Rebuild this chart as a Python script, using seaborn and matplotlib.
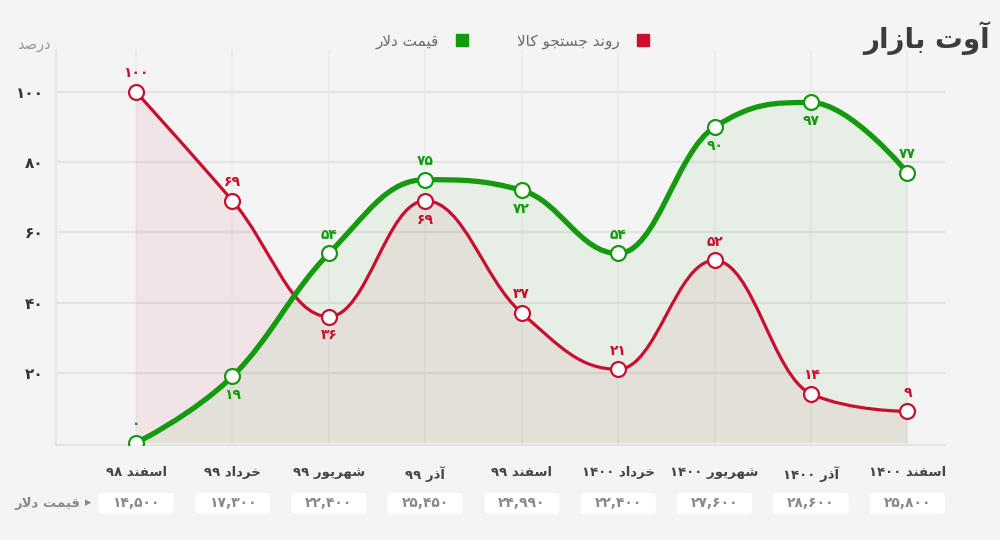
import re
import numpy as np
import pandas as pd
import matplotlib
matplotlib.use("Agg")
import matplotlib.pyplot as plt
import seaborn as sns
from matplotlib.path import Path
from matplotlib.patches import PathPatch, FancyBboxPatch
from matplotlib.lines import Line2D
from matplotlib import font_manager

# ---------------- data ----------------
categories = ["اسفند ۹۸", "خرداد ۹۹", "شهریور ۹۹", "آذر ۹۹", "اسفند ۹۹",
              "خرداد ۱۴۰۰", "شهریور ۱۴۰۰", "آذر ۱۴۰۰", "اسفند ۱۴۰۰"]
search_trend = [100, 69, 36, 69, 37, 21, 52, 14, 9]
dollar_index = [0, 19, 54, 75, 72, 54, 90, 97, 77]
dollar_prices = ["۱۴,۵۰۰", "۱۷,۳۰۰", "۲۲,۴۰۰", "۲۵,۴۵۰", "۲۴,۹۹۰",
                 "۲۲,۴۰۰", "۲۷,۶۰۰", "۲۸,۶۰۰", "۲۵,۸۰۰"]
y_ticks = [20, 40, 60, 80, 100]
search_label_side = [1, 1, -1, -1, 1, 1, 1, 1, 1]
dollar_label_side = [1, -1, 1, 1, -1, 1, -1, -1, 1]

series_search = "روند جستجو کالا"
series_dollar = "قیمت دلار"
y_title = "درصد"
price_row_title = "قیمت دلار"
logo_text = "آوت بازار"

RED = "#c90f2d"
GREEN = "#139a0e"
BG = "#f4f4f4"

# ---------------- persian shaping (matplotlib has no complex text layout) ----------------
FORMS = {
    'ا': ('\uFE8D', '\uFE8E', None, None),
    'آ': ('\uFE81', '\uFE82', None, None),
    'ب': ('\uFE8F', '\uFE90', '\uFE91', '\uFE92'),
    'ت': ('\uFE95', '\uFE96', '\uFE97', '\uFE98'),
    'ج': ('\uFE9D', '\uFE9E', '\uFE9F', '\uFEA0'),
    'خ': ('\uFEA5', '\uFEA6', '\uFEA7', '\uFEA8'),
    'د': ('\uFEA9', '\uFEAA', None, None),
    'ذ': ('\uFEAB', '\uFEAC', None, None),
    'ر': ('\uFEAD', '\uFEAE', None, None),
    'ز': ('\uFEAF', '\uFEB0', None, None),
    'س': ('\uFEB1', '\uFEB2', '\uFEB3', '\uFEB4'),
    'ش': ('\uFEB5', '\uFEB6', '\uFEB7', '\uFEB8'),
    'ص': ('\uFEB9', '\uFEBA', '\uFEBB', '\uFEBC'),
    'ف': ('\uFED1', '\uFED2', '\uFED3', '\uFED4'),
    'ق': ('\uFED5', '\uFED6', '\uFED7', '\uFED8'),
    'ک': ('\uFB8E', '\uFB8F', '\uFB90', '\uFB91'),
    'ل': ('\uFEDD', '\uFEDE', '\uFEDF', '\uFEE0'),
    'م': ('\uFEE1', '\uFEE2', '\uFEE3', '\uFEE4'),
    'ن': ('\uFEE5', '\uFEE6', '\uFEE7', '\uFEE8'),
    'ه': ('\uFEE9', '\uFEEA', '\uFEEB', '\uFEEC'),
    'و': ('\uFEED', '\uFEEE', None, None),
    'ی': ('\uFBFC', '\uFBFD', '\uFBFE', '\uFBFF'),
}
FALLBACK = {'\uFB8E': '\uFED9', '\uFB8F': '\uFEDA', '\uFB90': '\uFEDB', '\uFB91': '\uFEDC',
            '\uFBFC': '\uFEEF', '\uFBFD': '\uFEF0', '\uFBFE': '\uFEF3', '\uFBFF': '\uFEF4'}
try:
    from fontTools.ttLib import TTFont
    covered = None
    for w in ("normal", "bold"):
        p = font_manager.findfont(font_manager.FontProperties(family="DejaVu Sans", weight=w))
        cm = set(TTFont(p, fontNumber=0)['cmap'].getBestCmap().keys())
        covered = cm if covered is None else covered & cm
    MISSING = {k for k in FALLBACK if ord(k) not in covered}
except Exception:
    MISSING = set(FALLBACK)


def _joins_left(c):
    f = FORMS.get(c)
    return f is not None and f[2] is not None


def shape(text):
    out, i, n = [], 0, len(text)
    while i < n:
        c = text[i]
        if c not in FORMS:
            out.append(c); i += 1; continue
        pj = i > 0 and _joins_left(text[i - 1])
        if c == 'ل' and i + 1 < n and text[i + 1] in ('ا', 'آ'):
            lig = {'ا': ('\uFEFB', '\uFEFC'), 'آ': ('\uFEF5', '\uFEF6')}[text[i + 1]]
            out.append(lig[1] if pj else lig[0]); i += 2; continue
        nj = _joins_left(c) and i + 1 < n and text[i + 1] in FORMS
        f = FORMS[c]
        g = f[3] if (pj and nj) else f[1] if pj else f[2] if nj else f[0]
        out.append(FALLBACK[g] if g in MISSING else g)
        i += 1
    s = ''.join(out)
    tokens = re.findall(r'[0-9۰-۹,.]+|[^0-9۰-۹,.]+', s)
    return ''.join(t if re.match(r'[0-9۰-۹]', t) else t[::-1] for t in reversed(tokens))


def fa_num(v):
    return str(v).translate(str.maketrans("0123456789", "۰۱۲۳۴۵۶۷۸۹"))


# ---------------- highcharts-like spline ----------------
def spline_path(xs, ys, smoothing=1.5, close_to=None):
    n = len(xs)
    left = [None] * n
    right = [None] * n
    d = smoothing + 1
    for i in range(1, n - 1):
        px, py = xs[i], ys[i]
        lx, ly = xs[i - 1], ys[i - 1]
        nx, ny = xs[i + 1], ys[i + 1]
        lcx = (smoothing * px + lx) / d
        lcy = (smoothing * py + ly) / d
        rcx = (smoothing * px + nx) / d
        rcy = (smoothing * py + ny) / d
        corr = 0.0
        if rcx != lcx:
            corr = (rcy - lcy) * (rcx - px) / (rcx - lcx) + py - rcy
        lcy += corr
        rcy += corr
        if lcy > ly and lcy > py:
            lcy = max(ly, py); rcy = 2 * py - lcy
        elif lcy < ly and lcy < py:
            lcy = min(ly, py); rcy = 2 * py - lcy
        if rcy > ny and rcy > py:
            rcy = max(ny, py); lcy = 2 * py - rcy
        elif rcy < ny and rcy < py:
            rcy = min(ny, py); lcy = 2 * py - rcy
        left[i] = (lcx, lcy)
        right[i] = (rcx, rcy)
    verts = [(xs[0], ys[0])]
    codes = [Path.MOVETO]
    for i in range(1, n):
        c1 = right[i - 1] if right[i - 1] is not None else (xs[i - 1], ys[i - 1])
        c2 = left[i] if left[i] is not None else (xs[i], ys[i])
        verts += [c1, c2, (xs[i], ys[i])]
        codes += [Path.CURVE4] * 3
    if close_to is not None:
        verts += [(xs[-1], close_to), (xs[0], close_to), (xs[0], ys[0])]
        codes += [Path.LINETO, Path.LINETO, Path.CLOSEPOLY]
    return Path(verts, codes)


# ---------------- style ----------------
sns.set_theme(style="white")
plt.rcParams.update({
    "figure.facecolor": BG,
    "axes.facecolor": BG,
    "savefig.facecolor": BG,
})
plt.rcParams["font.family"] = ["DejaVu Sans"]

df = pd.DataFrame({
    "pos": list(range(len(categories))) * 2,
    "value": search_trend + dollar_index,
    "series": [series_search] * len(categories) + [series_dollar] * len(categories),
})

fig = plt.figure(figsize=(10, 5.4), dpi=100)
ax = fig.add_axes([0.056, 0.176, 0.889, 0.7315])
ax.set_xlim(-0.83, 8.39)
ax.set_ylim(-0.57, 111.97)

xs = np.arange(len(categories), dtype=float)

# fills
ax.add_patch(PathPatch(spline_path(xs, search_trend, close_to=0), facecolor=RED, alpha=0.066,
                       edgecolor="none", zorder=1))
ax.add_patch(PathPatch(spline_path(xs, dollar_index, close_to=0), facecolor=GREEN, alpha=0.06,
                       edgecolor="none", zorder=1.1))
# lines
ax.add_patch(PathPatch(spline_path(xs, search_trend), facecolor="none", edgecolor=RED,
                       lw=2.3, zorder=3, capstyle="round", joinstyle="round"))
ax.add_patch(PathPatch(spline_path(xs, dollar_index), facecolor="none", edgecolor=GREEN,
                       lw=3.8, zorder=3.1, capstyle="round", joinstyle="round"))

# markers via seaborn
sns.scatterplot(data=df[df.series == series_dollar], x="pos", y="value", ax=ax,
                color="white", edgecolor=GREEN, linewidth=1.6, s=115, zorder=4, legend=False)
sns.scatterplot(data=df[df.series == series_search], x="pos", y="value", ax=ax,
                color="white", edgecolor=RED, linewidth=1.6, s=115, zorder=5, legend=False)

# data labels
for x, v, side in zip(xs, search_trend, search_label_side):
    ax.annotate(fa_num(v), (x, v), xytext=(0, 13.5 * side), textcoords="offset points",
                ha="center", va="center", fontsize=10, fontweight="bold", color=RED, zorder=6)
for x, v, side in zip(xs, dollar_index, dollar_label_side):
    ax.annotate(fa_num(v), (x, v), xytext=(0, 13.5 * side), textcoords="offset points",
                ha="center", va="center", fontsize=10, fontweight="bold", color=GREEN, zorder=6)

# axes styling
ax.set_xticks(xs)
ax.set_xticklabels([shape(c) for c in categories], fontsize=9.5, fontweight="bold", color="#444444")
ax.set_yticks(y_ticks)
ax.set_yticklabels([fa_num(t) for t in y_ticks], fontsize=11, fontweight="bold", color="#333333")
ax.tick_params(axis="x", length=0, pad=15)
ax.tick_params(axis="y", length=0, pad=9)
ax.set_xlabel("")
ax.set_ylabel("")
ax.grid(axis="y", color="#e3e3e3", lw=1.6, zorder=0)
ax.grid(axis="x", color="#ebebeb", lw=1.2, zorder=0)
ax.set_axisbelow(True)
for s in ("top", "right"):
    ax.spines[s].set_visible(False)
ax.spines["left"].set_color("#e6e6e6")
ax.spines["left"].set_linewidth(1.5)
ax.spines["bottom"].set_color("#e3e3e3")
ax.spines["bottom"].set_linewidth(1.6)

# y title
fig.text(0.034, 1 - 44 / 540, shape(y_title), ha="center", va="center", color="#9a9a9a", fontsize=10.5)

# legend (RTL: marker after text)
handles = [Line2D([], [], marker="s", ls="none", markersize=9, markerfacecolor=GREEN, markeredgecolor=GREEN),
           Line2D([], [], marker="s", ls="none", markersize=9, markerfacecolor=RED, markeredgecolor=RED)]
fig.legend(handles=handles, labels=[shape(series_dollar), shape(series_search)],
           loc="center", bbox_to_anchor=(0.517, 0.924), ncol=2, frameon=False, markerfirst=False,
           fontsize=11, labelcolor="#6a6a6a", columnspacing=2.6, handletextpad=0.5)

# price boxes row
xt = ax.get_xaxis_transform()
aspect = (889 / (8.39 + 0.83)) / 395.0
for x, p in zip(xs, dollar_prices):
    box = FancyBboxPatch((x - 0.39, -0.1747), 0.78, 0.0532,
                         boxstyle="round,pad=0,rounding_size=0.04", mutation_aspect=aspect,
                         transform=xt, facecolor="white", edgecolor="none", clip_on=False, zorder=2)
    ax.add_patch(box)
    ax.text(x, -0.148, p, transform=xt, ha="center", va="center", fontsize=10,
            fontweight="bold", color="#8a8a8a", clip_on=False, zorder=3)

fig.text(0.080, 1 - 503 / 540, shape(price_row_title), ha="right", va="center",
         color="#8a8a8a", fontsize=9.5, fontweight="bold")
fig.text(0.088, 1 - 503 / 540, "\u25B8", ha="center", va="center", color="#8a8a8a", fontsize=9)

# logo
fig.text(0.99, 1 - 38 / 540, shape(logo_text), ha="right", va="center",
         color="#3c3c3c", fontsize=20, fontweight="bold")

fig.savefig("out.png", dpi=100)
